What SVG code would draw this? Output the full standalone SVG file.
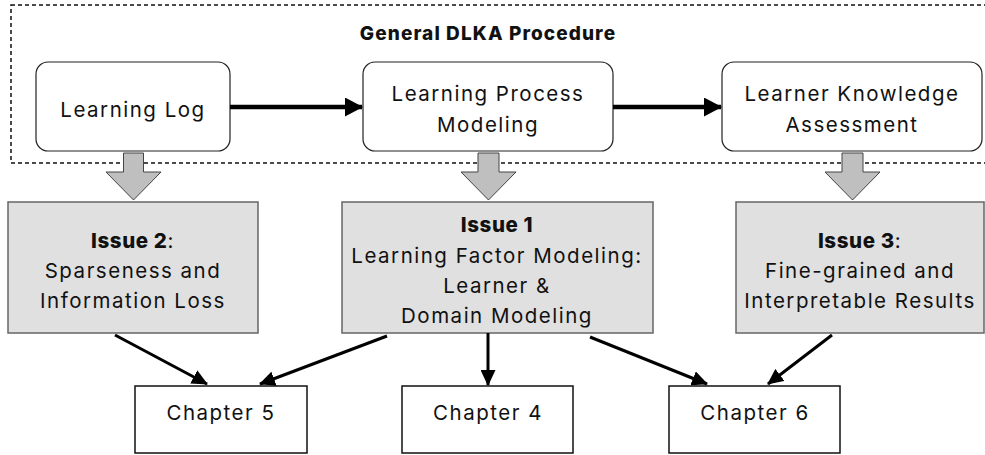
<svg xmlns="http://www.w3.org/2000/svg" width="985" height="455" viewBox="0 0 985 455">
  <defs>
    <style>
      text { font-family: Inter, "Noto Sans", "Liberation Sans", sans-serif; fill: #111; text-anchor: middle; }
      .lbl { font-size: 20.5px; letter-spacing: 1.5px; }
      .bold { font-weight: 800; letter-spacing: 0.6px; }
      .title { font-size: 19px; font-weight: 800; letter-spacing: 1.1px; }
      .step { fill: #fff; stroke: #222; stroke-width: 1.2; }
      .issue { fill: #e0e0e0; stroke: #666; stroke-width: 1.5; }
      .chap { fill: #fff; stroke: #111; stroke-width: 1.5; }
      .frame { fill: none; stroke: #111; stroke-width: 1.5; stroke-dasharray: 4 3; }
      .block { fill: #bfbfbf; stroke: #444; stroke-width: 1; }
      .flow { stroke: #000; stroke-width: 4.5; fill: none; }
      .link { stroke: #000; stroke-width: 3; fill: none; }
    </style>
    <marker id="headBig" markerUnits="userSpaceOnUse" markerWidth="18" markerHeight="19" refX="17" refY="9.5" orient="auto">
      <path d="M0,0 L18,9.5 L0,19 Z" fill="#000"/>
    </marker>
    <marker id="head" markerUnits="userSpaceOnUse" markerWidth="16" markerHeight="15" refX="15" refY="7.5" orient="auto">
      <path d="M0,0 L16,7.5 L0,15 Z" fill="#000"/>
    </marker>
  </defs>

  <!-- procedure frame -->
  <g id="procedure">
    <rect class="frame" x="11" y="5" width="980" height="158"/>
    <text class="title" x="488" y="40">General DLKA Procedure</text>
  </g>

  <!-- procedure steps -->
  <g id="learning-log">
    <rect class="step" x="36" y="62" width="194" height="89" rx="12"/>
    <text class="lbl" x="133" y="117">Learning Log</text>
  </g>
  <g id="process-modeling">
    <rect class="step" x="363" y="62" width="250" height="89" rx="12"/>
    <text class="lbl" x="488" y="101">Learning Process</text>
    <text class="lbl" x="488" y="132">Modeling</text>
  </g>
  <g id="knowledge-assessment">
    <rect class="step" x="722" y="62" width="260" height="89" rx="12"/>
    <text class="lbl" x="852" y="101">Learner Knowledge</text>
    <text class="lbl" x="852" y="132">Assessment</text>
  </g>

  <!-- issue boxes -->
  <g id="issue-2">
    <rect class="issue" x="8" y="202" width="250" height="131"/>
    <text class="lbl" x="133" y="248"><tspan class="bold">Issue 2</tspan>:</text>
    <text class="lbl" x="133" y="278">Sparseness and</text>
    <text class="lbl" x="133" y="308">Information Loss</text>
  </g>
  <g id="issue-1">
    <rect class="issue" x="342" y="202" width="311" height="131"/>
    <text class="lbl bold" x="497" y="232">Issue 1</text>
    <text class="lbl" x="497" y="263">Learning Factor Modeling:</text>
    <text class="lbl" x="497" y="293">Learner &amp;</text>
    <text class="lbl" x="497" y="323">Domain Modeling</text>
  </g>
  <g id="issue-3">
    <rect class="issue" x="736" y="202" width="248" height="131"/>
    <text class="lbl" x="860" y="248"><tspan class="bold">Issue 3</tspan>:</text>
    <text class="lbl" x="860" y="278">Fine-grained and</text>
    <text class="lbl" x="860" y="308">Interpretable Results</text>
  </g>

  <!-- chapters -->
  <g id="chapter-5">
    <rect class="chap" x="135" y="386" width="172" height="67"/>
    <text class="lbl" x="221" y="420">Chapter 5</text>
  </g>
  <g id="chapter-4">
    <rect class="chap" x="402" y="386" width="171" height="67"/>
    <text class="lbl" x="488" y="420">Chapter 4</text>
  </g>
  <g id="chapter-6">
    <rect class="chap" x="669" y="386" width="171" height="67"/>
    <text class="lbl" x="755" y="420">Chapter 6</text>
  </g>

  <!-- connectors -->
  <g id="connectors">
    <line class="flow" x1="230" y1="107" x2="362" y2="107" marker-end="url(#headBig)"/>
    <line class="flow" x1="613" y1="107" x2="721" y2="107" marker-end="url(#headBig)"/>

    <path class="block" d="M123.5,153 H143.5 V172 H161 L133.5,200 L106,172 H123.5 Z"/>
    <path class="block" d="M478,153 H499 V172 H516 L488.5,200 L461,172 H478 Z"/>
    <path class="block" d="M842,153 H863 V172 H880 L852.5,200 L825,172 H842 Z"/>

    <line class="link" x1="115" y1="335" x2="207" y2="384" marker-end="url(#head)"/>
    <line class="link" x1="387" y1="336" x2="260" y2="384" marker-end="url(#head)"/>
    <line class="link" x1="488" y1="333" x2="488" y2="385" marker-end="url(#head)"/>
    <line class="link" x1="590" y1="337" x2="707" y2="384" marker-end="url(#head)"/>
    <line class="link" x1="832" y1="335" x2="768" y2="384" marker-end="url(#head)"/>
  </g>
</svg>
